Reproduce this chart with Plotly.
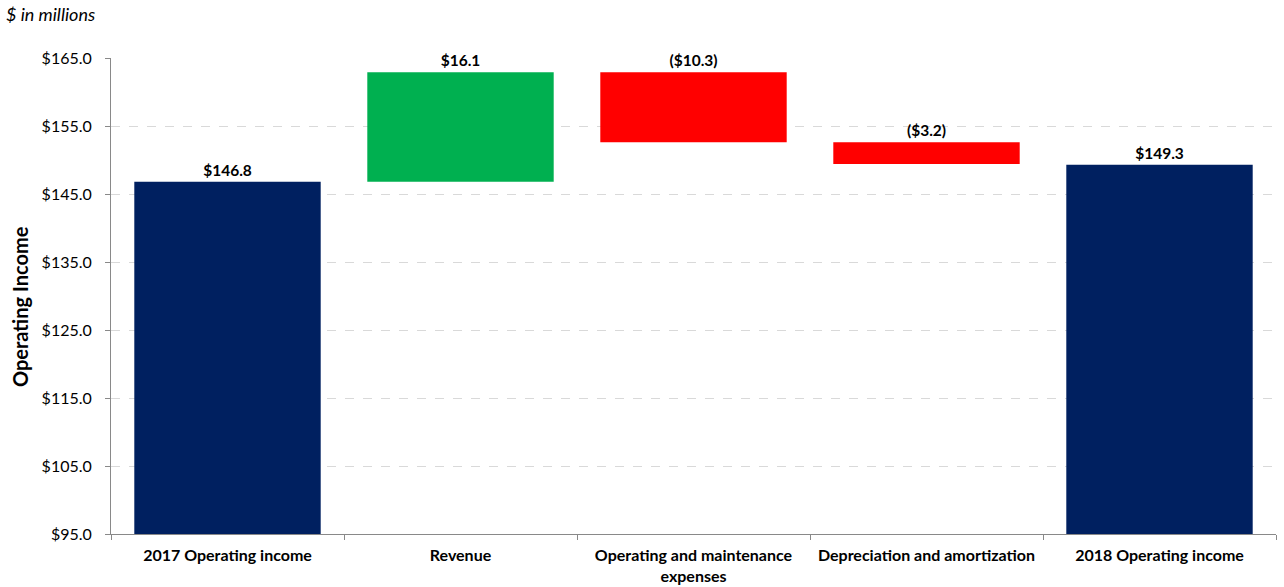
import plotly.graph_objects as go

categories = ["2017 Operating income", "Revenue", "Operating and maintenance<br>expenses",
              "Depreciation and amortization", "2018 Operating income"]
changes = [146.8, 16.1, -10.3, -3.2, 149.3]
kinds = ["total", "delta", "delta", "delta", "total"]
labels = ["$146.8", "$16.1", "($10.3)", "($3.2)", "$149.3"]
y_ticks = [95, 105, 115, 125, 135, 145, 155, 165]
y_tick_text = ["$95.0", "$105.0", "$115.0", "$125.0", "$135.0", "$145.0", "$155.0", "$165.0"]

NAVY, GREEN, RED = "#002060", "#00B050", "#FF0000"

bases, heights, colors = [], [], []
running = 0.0
for v, k in zip(changes, kinds):
    if k == "total":
        bases.append(0)
        heights.append(v)
        colors.append(NAVY)
        running = v
    else:
        new = running + v
        bases.append(min(running, new))
        heights.append(abs(v))
        colors.append(GREEN if v > 0 else RED)
        running = new

FONT = "Lato"
W, H = 1284, 587
ML, MR, MT, MB = 111, 8, 58, 53

fig = go.Figure(go.Bar(
    x=categories, y=heights, base=bases,
    marker=dict(color=colors, line=dict(width=0)),
    width=0.8,
    text=labels, textposition="outside", cliponaxis=False,
    textfont=dict(family=FONT, size=15.5, color="#000000", weight="bold"),
    hoverinfo="skip",
))

pw, ph = W - ML - MR, H - MT - MB
fig.update_layout(
    width=W, height=H,
    margin=dict(l=ML, r=MR, t=MT, b=MB, autoexpand=False),
    plot_bgcolor="white", paper_bgcolor="white",
    showlegend=False,
    font=dict(family=FONT, color="#000000"),
    annotations=[
        dict(text="<i>$ in millions</i>", x=(4 - ML) / pw, xref="paper", xanchor="left",
             y=1 - (14 - MT) / ph, yref="paper", yanchor="middle",
             showarrow=False, font=dict(family=FONT, size=18, color="#000000")),
        dict(text="<b>Operating Income</b>", textangle=-90,
             x=(20 - ML) / pw, xref="paper", xanchor="center",
             y=1 - (307 - MT) / ph, yref="paper", yanchor="middle",
             showarrow=False, font=dict(family=FONT, size=20, color="#000000")),
    ],
)

fig.update_xaxes(
    showline=True, linecolor="#898989", linewidth=1,
    ticks="outside", ticklen=5, tickcolor="#898989", tickson="boundaries",
    tickfont=dict(family=FONT, size=16, color="#000000", weight="bold"),
    ticklabelstandoff=7,
    showgrid=False, automargin=False,
)

fig.update_yaxes(
    range=[95, 165], tickvals=y_ticks, ticktext=y_tick_text,
    showline=True, linecolor="#898989", linewidth=1,
    ticks="outside", ticklen=5, tickcolor="#898989",
    tickfont=dict(family=FONT, size=16, color="#000000"),
    ticklabelstandoff=10,
    showgrid=True, gridcolor="#D9D9D9", griddash="dash", gridwidth=1,
    zeroline=False, automargin=False,
)

fig.write_html("out.html", config={"displayModeBar": False},
               post_script="document.body.style.margin='0';document.body.style.overflow='hidden';")
